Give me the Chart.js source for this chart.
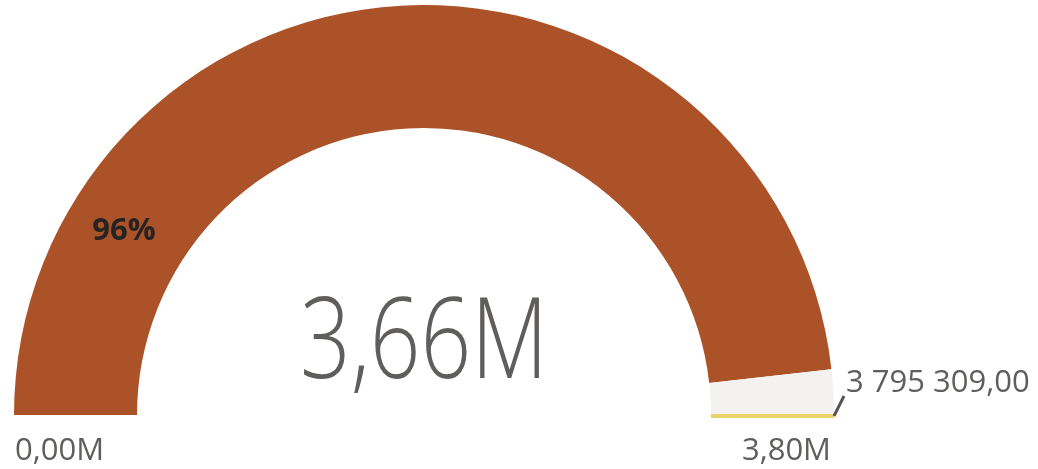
<!DOCTYPE html>
<html>
<head>
<meta charset="utf-8">
<script src="https://cdn.jsdelivr.net/npm/chart.js@4"></script>
<style>
  html, body { margin: 0; padding: 0; background: #fff; }
  #wrap { width: 1038px; height: 469px; position: relative; }
</style>
</head>
<body>
<div id="wrap"><canvas id="gauge"></canvas></div>
<script>
var gaugeMin = 0;
var gaugeMax = 3795309;
var gaugeValue = 3660000;
var targetValue = 3795309;
var labels = ["Valeur", "Reste"];
var gaugeColors = ["#AC5229", "#F3F2F1"];
var valueText = "3,66M";
var pctText = "96%";
var minText = "0,00M";
var maxText = "3,80M";
var targetText = "3 795 309,00";

var gaugeText = {
  id: "gaugeText",
  afterDatasetsDraw(chart) {
    var arc = chart.getDatasetMeta(0).data[0];
    if (!arc) return;
    var ctx = chart.ctx;
    var cx = arc.x, cy = arc.y, ro = arc.outerRadius, ri = arc.innerRadius;
    var grey = "#605E5C";

    // target marker across the ring
    var a = Math.PI + Math.PI * (targetValue - gaugeMin) / (gaugeMax - gaugeMin);
    ctx.save();
    ctx.strokeStyle = "#E9D26C";
    ctx.lineWidth = 4;
    ctx.beginPath();
    ctx.moveTo(cx + Math.cos(a) * ri, cy + Math.sin(a) * ri + 1);
    ctx.lineTo(cx + Math.cos(a) * ro, cy + Math.sin(a) * ro + 1);
    ctx.stroke();

    // leader line to target label
    var tx = cx + Math.cos(a) * ro, ty = cy + Math.sin(a) * ro + 1;
    ctx.strokeStyle = "#555555";
    ctx.lineWidth = 3;
    ctx.beginPath();
    ctx.moveTo(tx, ty);
    ctx.lineTo(tx + 10, ty - 20);
    ctx.stroke();

    ctx.fillStyle = grey;
    ctx.font = "31px 'Open Sans'";
    ctx.textBaseline = "alphabetic";
    ctx.textAlign = "left";
    ctx.fillText(targetText, tx + 12, ty - 24);

    // min / max labels
    ctx.fillText(minText, cx - ro + 1, cy + 45);
    ctx.textAlign = "right";
    ctx.fillText(maxText, cx + ro - 3, cy + 45);

    // percentage on the arc
    ctx.textAlign = "center";
    ctx.fillStyle = "#252423";
    ctx.font = "bold 31px 'Open Sans'";
    ctx.fillText(pctText, cx - 300, cy - 175);

    // big value, condensed
    ctx.fillStyle = grey;
    ctx.font = "300 113px 'Open Sans'";
    var w = ctx.measureText(valueText).width;
    var sx = 248 / w;
    ctx.translate(cx, cy - 37);
    ctx.scale(sx, 1);
    ctx.fillText(valueText, 0, 0);
    ctx.restore();
  }
};

new Chart("gauge", {
  type: "doughnut",
  data: {
    labels: labels,
    datasets: [{
      data: [gaugeValue - gaugeMin, gaugeMax - gaugeValue],
      backgroundColor: gaugeColors,
      hoverBackgroundColor: gaugeColors,
      borderWidth: 0
    }]
  },
  options: {
    responsive: true,
    maintainAspectRatio: false,
    animation: false,
    rotation: -90,
    circumference: 180,
    cutout: "70%",
    layout: { padding: { left: 14, right: 204, top: 5, bottom: 54 } },
    plugins: {
      legend: { display: false },
      tooltip: { enabled: false }
    }
  },
  plugins: [gaugeText]
});
</script>
</body>
</html>
